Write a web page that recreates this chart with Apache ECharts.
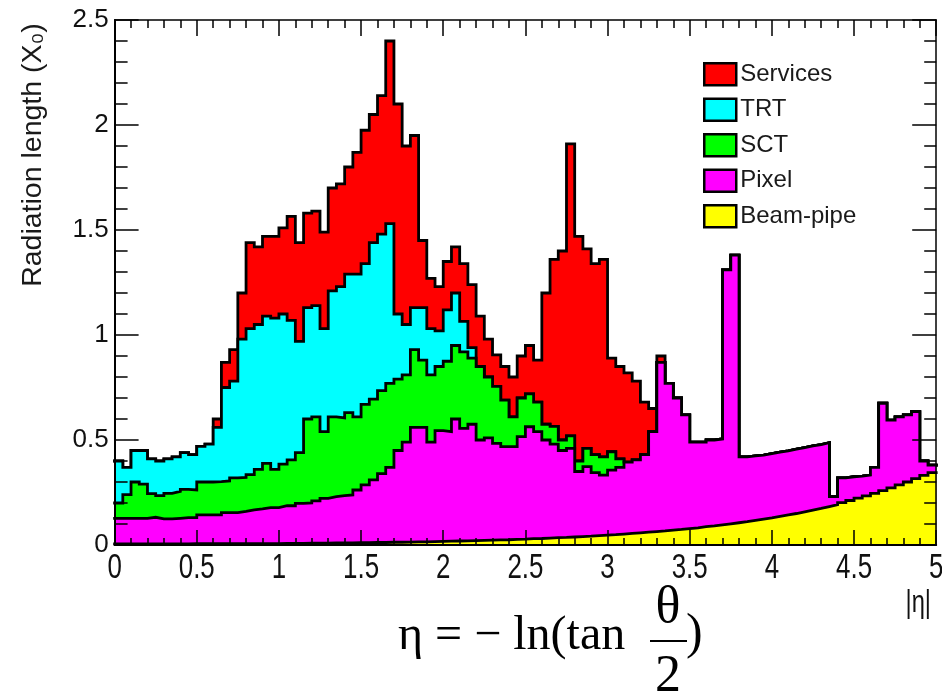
<!DOCTYPE html>
<html>
<head>
<meta charset="utf-8">
<script src="https://cdn.jsdelivr.net/npm/echarts@6/dist/echarts.min.js"></script>
<style>
  html, body { margin: 0; padding: 0; background: #fff; }
  #chart { width: 942px; height: 695px; }
</style>
</head>
<body>
<div id="chart"></div>
<script>
// Material in front of the ATLAS inner detector versus |eta|, 0.05-wide bins from 0 to 5.
// Each array is the upper edge of a layer in the stack, i.e. the running total
// of radiation length (in X0) up to and including that layer.
const etaMin = 0;
const etaMax = 5;
const binWidth = 0.05;

const layerNames = ['Services', 'TRT', 'SCT', 'Pixel', 'Beam-pipe'];

const etaTicks = [0, 0.5, 1, 1.5, 2, 2.5, 3, 3.5, 4, 4.5, 5];
const etaTickLabels = ['0', '0.5', '1', '1.5', '2', '2.5', '3', '3.5', '4', '4.5', '5'];

const servicesTop = [
  0.40, 0.37, 0.45, 0.45, 0.41, 0.40, 0.41, 0.42, 0.44, 0.43,
  0.47, 0.48, 0.60, 0.87, 0.93, 1.20, 1.44, 1.42, 1.47, 1.47,
  1.51, 1.565, 1.44, 1.58, 1.59, 1.49, 1.70, 1.72, 1.80, 1.87,
  1.975, 2.05, 2.14, 2.40, 2.10, 1.90, 1.95, 1.45, 1.27, 1.23,
  1.35, 1.42, 1.34, 1.24, 1.09, 0.98, 0.905, 0.85, 0.80, 0.90,
  0.95, 0.88, 1.20, 1.36, 1.40, 1.91, 1.47, 1.41, 1.34, 1.36,
  0.89, 0.85, 0.82, 0.78, 0.68, 0.65, 0.90, 0.77, 0.70, 0.62,
  0.49, 0.49, 0.50, 0.505, 1.31, 1.38, 0.42, 0.424, 0.428, 0.435,
  0.442, 0.448, 0.456, 0.464, 0.472, 0.478, 0.487, 0.23, 0.32, 0.325,
  0.328, 0.333, 0.37, 0.675, 0.595, 0.61, 0.62, 0.635, 0.40, 0.38
];

const trtTop = [
  0.40, 0.37, 0.45, 0.45, 0.41, 0.40, 0.41, 0.42, 0.44, 0.43,
  0.47, 0.48, 0.56, 0.75, 0.78, 0.98, 1.03, 1.05, 1.09, 1.08,
  1.10, 1.07, 0.97, 1.13, 1.14, 1.03, 1.21, 1.23, 1.29, 1.29,
  1.34, 1.44, 1.48, 1.53, 1.10, 1.05, 1.13, 1.13, 1.03, 1.02,
  1.12, 1.20, 1.065, 0.94, 0.85, 0.80, 0.755, 0.69, 0.61, 0.70,
  0.72, 0.68, 0.575, 0.565, 0.50, 0.52, 0.40, 0.46, 0.43, 0.42,
  0.444, 0.41, 0.395, 0.405, 0.43, 0.54, 0.87, 0.77, 0.70, 0.62,
  0.49, 0.49, 0.50, 0.505, 1.31, 1.38, 0.42, 0.424, 0.428, 0.435,
  0.442, 0.448, 0.456, 0.464, 0.472, 0.478, 0.487, 0.23, 0.32, 0.325,
  0.328, 0.333, 0.37, 0.675, 0.595, 0.61, 0.62, 0.635, 0.40, 0.38
];

const sctTop = [
  0.20, 0.24, 0.30, 0.29, 0.245, 0.235, 0.246, 0.255, 0.265, 0.262,
  0.30, 0.30, 0.302, 0.305, 0.32, 0.322, 0.335, 0.36, 0.389, 0.36,
  0.385, 0.405, 0.44, 0.60, 0.61, 0.54, 0.61, 0.605, 0.63, 0.61,
  0.67, 0.695, 0.735, 0.77, 0.79, 0.81, 0.93, 0.88, 0.81, 0.85,
  0.875, 0.95, 0.92, 0.89, 0.85, 0.80, 0.755, 0.69, 0.61, 0.70,
  0.72, 0.68, 0.575, 0.565, 0.50, 0.52, 0.40, 0.46, 0.43, 0.42,
  0.444, 0.41, 0.395, 0.405, 0.43, 0.54, 0.87, 0.77, 0.70, 0.62,
  0.49, 0.49, 0.50, 0.505, 1.31, 1.38, 0.42, 0.424, 0.428, 0.435,
  0.442, 0.448, 0.456, 0.464, 0.472, 0.478, 0.487, 0.23, 0.32, 0.325,
  0.328, 0.333, 0.37, 0.675, 0.595, 0.61, 0.62, 0.635, 0.40, 0.38
];

const pixelTop = [
  0.127, 0.127, 0.127, 0.127, 0.132, 0.124, 0.124, 0.127, 0.13, 0.13,
  0.143, 0.143, 0.143, 0.154, 0.154, 0.16, 0.167, 0.172, 0.178, 0.178,
  0.187, 0.187, 0.198, 0.20, 0.21, 0.222, 0.23, 0.235, 0.238, 0.262,
  0.286, 0.31, 0.34, 0.37, 0.45, 0.49, 0.56, 0.56, 0.49, 0.545,
  0.54, 0.60, 0.555, 0.575, 0.50, 0.51, 0.484, 0.468, 0.468, 0.516,
  0.563, 0.54, 0.50, 0.48, 0.45, 0.46, 0.35, 0.373, 0.345, 0.333,
  0.357, 0.37, 0.395, 0.405, 0.43, 0.54, 0.87, 0.77, 0.70, 0.62,
  0.49, 0.49, 0.50, 0.505, 1.31, 1.38, 0.42, 0.424, 0.428, 0.435,
  0.442, 0.448, 0.456, 0.464, 0.472, 0.478, 0.487, 0.23, 0.32, 0.325,
  0.328, 0.333, 0.37, 0.675, 0.595, 0.61, 0.62, 0.635, 0.40, 0.38
];

const beamPipeTop = [
  0.005, 0.005, 0.005, 0.005, 0.005, 0.005, 0.005, 0.005, 0.005, 0.006,
  0.006, 0.006, 0.006, 0.006, 0.006, 0.007, 0.007, 0.007, 0.007, 0.007,
  0.008, 0.008, 0.008, 0.009, 0.009, 0.009, 0.010, 0.010, 0.010, 0.011,
  0.011, 0.012, 0.012, 0.013, 0.013, 0.014, 0.015, 0.015, 0.016, 0.017,
  0.018, 0.019, 0.020, 0.021, 0.022, 0.023, 0.024, 0.025, 0.027, 0.028,
  0.030, 0.031, 0.033, 0.035, 0.036, 0.038, 0.040, 0.042, 0.045, 0.047,
  0.049, 0.052, 0.055, 0.058, 0.061, 0.064, 0.067, 0.071, 0.074, 0.078,
  0.082, 0.087, 0.091, 0.096, 0.101, 0.106, 0.111, 0.117, 0.123, 0.129,
  0.136, 0.143, 0.150, 0.158, 0.166, 0.174, 0.183, 0.192, 0.202, 0.212,
  0.223, 0.234, 0.246, 0.259, 0.272, 0.286, 0.300, 0.316, 0.332, 0.345
];

const layerTops = [servicesTop, trtTop, sctTop, pixelTop, beamPipeTop];
const layerColors = ['#ff0000', '#00ffff', '#00ff00', '#ff00ff', '#ffff00'];

// Histogram bins -> points at the low edge of each bin, closed at etaMax.
function toSteps(values) {
  const pts = values.map((v, i) => [+(etaMin + i * binWidth).toFixed(4), v]);
  pts.push([etaMax, values[values.length - 1]]);
  return pts;
}

const labelFont = "'Liberation Sans', Arial, sans-serif";
const serifFont = "'Liberation Serif', 'Times New Roman', serif";

function valueAxis(extra) {
  return Object.assign({
    type: 'value',
    z: 10,
    splitLine: { show: false },
    minorSplitLine: { show: false },
    axisLine: { show: true, onZero: false, lineStyle: { color: '#000', width: 2 } },
    axisTick: { show: true, inside: true, lineStyle: { color: '#000', width: 1.5 } },
    minorTick: { show: true, splitNumber: 5, lineStyle: { color: '#000', width: 1.5 } }
  }, extra);
}

function textStyle(text, size, family, align, vAlign, fill) {
  return {
    text: text, fontFamily: family, fontSize: size, fill: fill || '#000',
    align: align, verticalAlign: vAlign, textAlign: align, textVerticalAlign: vAlign
  };
}

const chart = echarts.init(document.getElementById('chart'), null, { renderer: 'canvas' });

chart.setOption({
  animation: false,
  backgroundColor: '#fff',
  grid: { left: 114.6, right: 5.8, top: 20, bottom: 150, containLabel: false },
  xAxis: [
    valueAxis({
      position: 'bottom', min: etaMin, max: etaMax, interval: 0.5,
      axisTick: { show: true, inside: true, length: 15, lineStyle: { color: '#000', width: 1.5 } },
      minorTick: { show: true, splitNumber: 5, length: 7, lineStyle: { color: '#000', width: 1.5 } },
      axisLabel: { show: false }
    }),
    valueAxis({
      position: 'top', min: etaMin, max: etaMax, interval: 0.5,
      axisLine: { show: true, onZero: false, lineStyle: { color: '#000', width: 1.5 } },
      axisTick: { show: true, inside: true, length: 16, lineStyle: { color: '#000', width: 1.5 } },
      minorTick: { show: true, splitNumber: 5, length: 8, lineStyle: { color: '#000', width: 1.5 } },
      axisLabel: { show: false }
    })
  ],
  yAxis: [
    valueAxis({
      position: 'left', min: 0, max: 2.5, interval: 0.5,
      axisTick: { show: true, inside: true, length: 24, lineStyle: { color: '#000', width: 1.5 } },
      minorTick: { show: true, splitNumber: 5, length: 13, lineStyle: { color: '#000', width: 1.5 } },
      axisLabel: { margin: 6, fontFamily: labelFont, fontSize: 26, color: '#111' }
    }),
    valueAxis({
      position: 'right', min: 0, max: 2.5, interval: 0.5,
      axisLine: { show: true, onZero: false, lineStyle: { color: '#000', width: 1.5 } },
      axisTick: { show: true, inside: true, length: 24, lineStyle: { color: '#000', width: 1.5 } },
      minorTick: { show: true, splitNumber: 5, length: 12, lineStyle: { color: '#000', width: 1.5 } },
      axisLabel: { show: false }
    })
  ],
  legend: {
    orient: 'vertical',
    left: 703,
    top: 62,
    padding: 0,
    itemWidth: 32,
    itemHeight: 22,
    itemGap: 11,
    icon: 'rect',
    selectedMode: false,
    textStyle: { fontFamily: labelFont, fontSize: 24, color: '#1a1a1a', padding: [0, 0, 0, -1] },
    data: layerNames.map((name, i) => ({
      name: name,
      itemStyle: { color: layerColors[i], borderColor: '#000', borderWidth: 2.5 }
    }))
  },
  series: layerNames.map((name, i) => ({
    name: name,
    type: 'line',
    xAxisIndex: 0,
    yAxisIndex: 0,
    step: 'end',
    data: toSteps(layerTops[i]),
    symbol: 'none',
    showSymbol: false,
    silent: true,
    clip: true,
    z: 2 + i * 0.01,
    itemStyle: { color: layerColors[i] },
    lineStyle: { color: '#000', width: 2.8, join: 'miter', cap: 'square' },
    areaStyle: { color: layerColors[i], opacity: 1, origin: 'start' }
  }))
});

// |eta| tick labels in a tall, condensed face, placed through the x axis scale.
const tickGraphics = etaTicks.map((v, i) => ({
  type: 'text',
  id: 'etaTick' + i,
  x: chart.convertToPixel({ xAxisIndex: 0 }, v),
  y: 568,
  scaleX: 0.74,
  z: 20,
  style: textStyle(etaTickLabels[i], 35, labelFont, 'center', 'middle', '#111')
}));

chart.setOption({
  graphic: tickGraphics.concat([
    {
      type: 'text', id: 'yTitle', x: 33, y: 155, rotation: Math.PI / 2, z: 20,
      style: textStyle('Radiation length (X\u2080)', 28.5, labelFont, 'center', 'middle', '#1a1a1a')
    },
    {
      type: 'text', id: 'xTitle', x: 931, y: 603, scaleX: 0.74, z: 20,
      style: textStyle('|\u03b7|', 32, labelFont, 'right', 'middle', '#111')
    },
    {
      type: 'text', id: 'formulaMain', x: 398, y: 660, z: 20,
      style: textStyle('\u03b7 = \u2212 ln(tan', 48, serifFont, 'left', 'bottom')
    },
    {
      type: 'text', id: 'formulaNum', x: 668, y: 634, z: 20,
      style: textStyle('\u03b8', 52, serifFont, 'center', 'bottom')
    },
    {
      type: 'rect', id: 'formulaBar', z: 20,
      shape: { x: 650, y: 640, width: 37, height: 2 },
      style: { fill: '#000' }
    },
    {
      type: 'text', id: 'formulaDen', x: 668, y: 651, z: 20,
      style: textStyle('2', 52, serifFont, 'center', 'top')
    },
    {
      type: 'text', id: 'formulaClose', x: 686, y: 660, z: 20,
      style: textStyle(')', 50, serifFont, 'left', 'bottom')
    }
  ])
});
</script>
</body>
</html>
